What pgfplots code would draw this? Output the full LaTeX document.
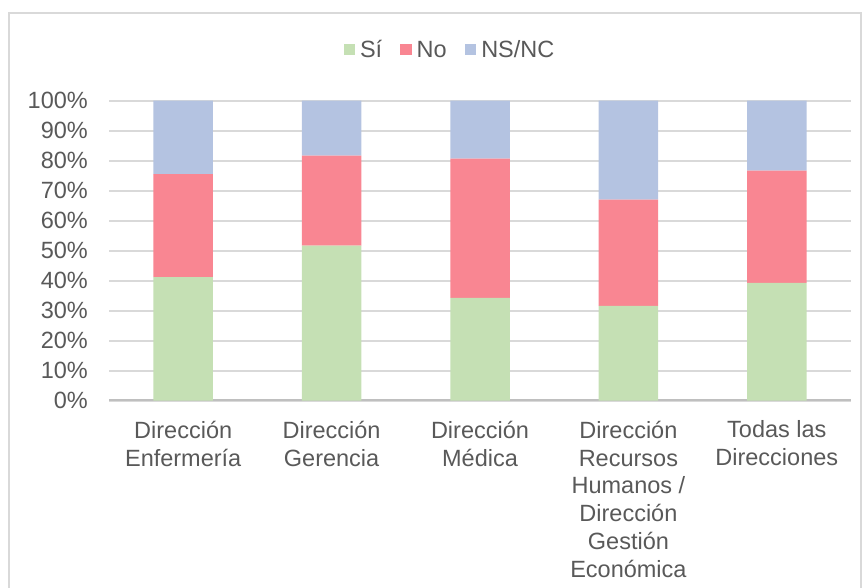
\documentclass[border=0pt]{standalone}
\usepackage{pgfplots}
\pgfplotsset{compat=1.18}
\usepackage{fontspec}
\setmainfont{Liberation Sans}
\definecolor{si}{RGB}{197,224,180}
\definecolor{no}{RGB}{249,134,146}
\definecolor{ns}{RGB}{180,195,225}
\definecolor{txt}{RGB}{89,89,89}
\definecolor{grd}{RGB}{217,217,217}
\definecolor{base}{RGB}{191,191,191}

\begin{document}
\begin{tikzpicture}
\useasboundingbox (0bp,0bp) rectangle (865bp,588bp);
\draw[grd, line width=1.5bp] (9bp,-5bp) -- (9bp,575bp) -- (861bp,575bp) -- (861bp,-5bp);
\begin{axis}[
    at={(109bp,187.3bp)}, anchor=south west,
    width=742bp, height=300bp, scale only axis,
    xmin=-0.5, xmax=4.5, ymin=0, ymax=100,
    ybar stacked, bar width=59.5bp,
    axis line style={draw=none},
    major tick length=0pt,
    ytick={0,10,...,100},
    yticklabel={\pgfmathprintnumber[assume math mode=true]{\tick}\%},
    yticklabel style={font=\fontsize{23.5bp}{27bp}\selectfont, text=txt, inner sep=0pt, anchor=east, xshift=-21bp},
    ymajorgrids, grid style={grd, line width=1.7bp},
    xtick={0,1,2,3,4},
    xticklabels={{Dirección\\Enfermería},{Dirección\\Gerencia},{Dirección\\Médica},{Dirección\\Recursos\\Humanos /\\Dirección\\Gestión\\Económica},{Todas las\\Direcciones}},
    xticklabel style={font=\fontsize{23.5bp}{27.8bp}\selectfont, text=txt, align=center, inner sep=0pt, anchor=north, yshift=-20bp},
    legend style={at={(0.4595,1.169)}, anchor=center, draw=none, fill=none,
        legend columns=3, font=\fontsize{23.5bp}{27bp}\selectfont, text=txt,
        /tikz/every odd column/.append style={column sep=3bp},
        /tikz/every even column/.append style={column sep=16bp}},
    legend image code/.code={\fill[#1] (0bp,-5.5bp) rectangle (11.5bp,6bp);},
]
\addplot[fill=si, draw=none] coordinates {(0,41.2) (1,51.7) (2,34.3) (3,31.6) (4,39.3)};
\addplot[fill=no, draw=none] coordinates {(0,34.3) (1,30.0) (2,46.4) (3,35.4) (4,37.4)};
\addplot[fill=ns, draw=none] coordinates {(0,24.5) (1,18.3) (2,19.3) (3,33.0) (4,23.3)};
\legend{Sí,No,NS/NC}
\draw[base, line width=2.5bp] (axis cs:-0.5,0) -- (axis cs:4.5,0);
\end{axis}
\end{tikzpicture}
\end{document}
